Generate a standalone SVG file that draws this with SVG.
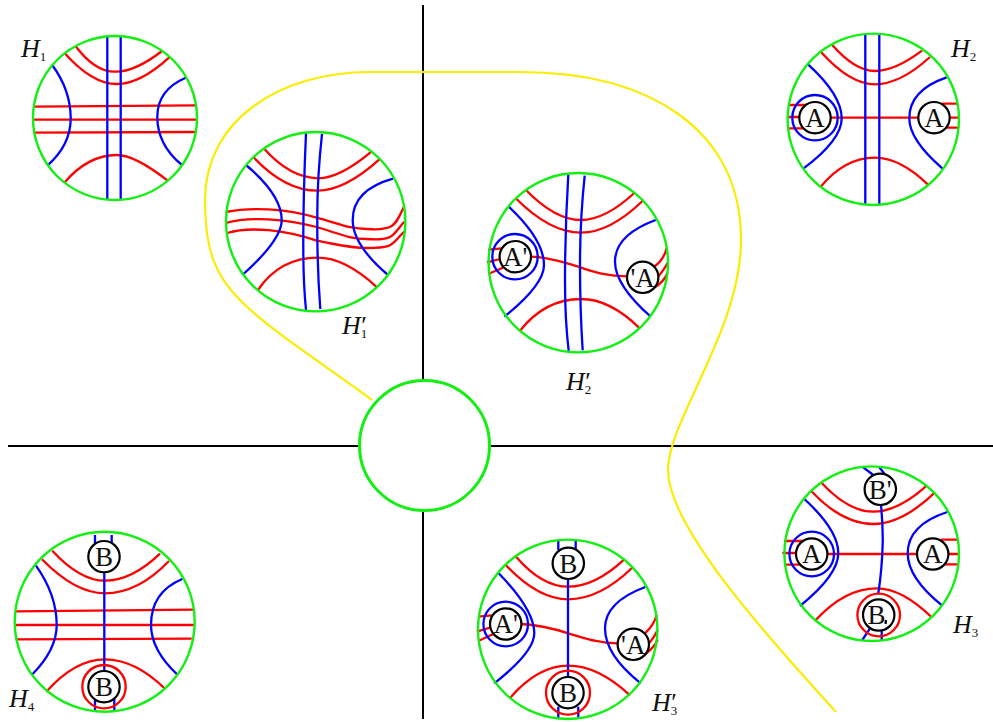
<svg xmlns="http://www.w3.org/2000/svg" width="993" height="722" viewBox="0 0 993 722">
<style>
path,line,circle{fill:none;stroke-width:2.3}
.r{stroke:#f00}.b{stroke:#00f}.d{stroke:#12f012;stroke-width:2.4}
.k{stroke:#000;fill:#fff;stroke-width:2.2}
.ax{stroke:#000;stroke-width:2}
.y{stroke:#fbec00;stroke-width:2.2}
text{font-family:"Liberation Serif","Times New Roman",serif;fill:#111}
.l{font-size:27px;text-anchor:middle}
.h{font-size:26px;font-style:italic}
.s{font-size:13px;font-style:normal}
</style>
<rect width="993" height="722" fill="#fff"/>
<g id="connectors">
<line class="ax" x1="423" y1="5" x2="423" y2="380"/>
<line class="ax" x1="423" y1="512" x2="423" y2="719"/>
<line class="ax" x1="8" y1="446" x2="359" y2="446"/>
<line class="ax" x1="491" y1="446" x2="993" y2="446"/>
<path class="y" d="M372 400C325 365 272 332 240 300C215 275 205 250 205 200C205 120 280 72 370 72L520 72C650 72 741 130 741 240C741 330 668 420 668 470C668 530 780 650 836 712"/>
</g>
<g id="center"><circle cx="424.5" cy="445.5" r="65" class="d" style="stroke-width:3"/></g>

<g id="H1">
<path class="r" d="M75.3 45.7Q95 72 115 71.7Q135 72 162 51M64.3 52.7Q92 84 116.7 84Q140 84 169.3 57.3M64.3 182.7Q88 155 116.7 155Q135 155 167.7 180.7"/>
<path class="r" d="M33 106.7L196 105.3M32.5 119.7L197 119.7M33 132.7L195 132"/>
<path class="b" d="M52 64.7Q70.7 90 70.7 118.3Q70.7 145 47.7 165.3M185.7 77.7Q157.3 90 157.3 116.7Q157.3 145 182 165M107.3 36V200M120.7 36V200"/>
<circle class="d" cx="115" cy="118" r="82"/>
<text class="h" x="21" y="57">H<tspan class="s" dy="4">1</tspan></text>
</g>

<g id="H1p">
<path class="r" d="M263.7 148.3Q290 178 318.3 178.3Q340 178 371.7 151.3M253.3 157Q285 190.7 317.7 190.7Q345 190.7 380.3 158.7M258 290Q280 257.7 317.7 257.7Q345 257.7 377 287.3"/>
<path class="r" d="M225.7 212C250 207 285 208 316.7 217.7C340 224 350 229 366.7 229C395 231 395 225 404 206.7M225.7 223C250 216 285 219 316.7 227C340 234 350 239 366.7 239C395 241 392 235 404.3 221.7M227.3 233C250 226 285 230 316.7 240.7C340 245 350 248 366.7 248C395 248 390 245 404.3 231.7"/>
<path class="b" d="M246 165Q281.7 195 281.7 220Q281.7 240 242.3 275M393 178.7Q352.7 190 352.7 220Q352.7 245 388 275M306 133.3Q303 200 303.3 253Q303.5 285 306 310M322 134Q317 180 317.3 220Q317 265 320.3 309"/>
<circle class="d" cx="315.7" cy="221.7" r="89.7"/>
<text class="h" x="342" y="334">H<tspan class="s" dy="4">1</tspan><tspan dx="-6" dy="-4" font-style="normal">′</tspan></text>
</g>

<g id="H2p">
<path class="r" d="M526 190Q555 220 581 220Q605 220 634.3 193M515.7 198.3Q550 232.7 581 232.7Q610 232.7 643.3 200.3M520 330.7Q545 299 581 299Q610 299 639.7 328.3"/>
<path class="r" d="M531 256.7C545 257 560 261 578.3 266.7C595 272 605 276 627 276.3M488.3 249.7L501.7 248.3M487 262.3L500 259M488.3 274L505 266.7M666.7 247.7Q664 260 654 266.7M667.7 262.7Q664 270 656.7 278.3M667.7 272.7Q664 282 654 287.7"/>
<path class="b" d="M508.7 206.7Q544 240 544 265Q544 285 504.3 316.7M655.7 220Q615 235 615 261.7Q615 285 650.7 316.7M568.3 175Q565 230 565 281.7Q565 320 568.7 351M584.7 175.7Q580 220 580 265Q580 310 582.7 350.3"/>
<circle class="b" cx="515" cy="256.7" r="22.7"/>
<circle class="d" cx="578.3" cy="262.7" r="89.7"/>
<circle class="k" cx="515.3" cy="256.7" r="15.7"/><text class="l" x="515.3" y="266">A'</text>
<circle class="k" cx="642.7" cy="277.3" r="15.7"/><text class="l" x="642.7" y="286.5">'A</text>
<text class="h" x="566" y="390">H<tspan class="s" dy="4">2</tspan><tspan dx="-6" dy="-4" font-style="normal">′</tspan></text>
</g>

<g id="H2">
<path class="r" d="M832.3 45Q855 71 875 71Q895 71 922 50.7M821 52Q850 84.3 875 84.3Q900 84.3 930 57M820.7 186.7Q845 157.7 875 157.7Q900 157.7 928 184.7"/>
<path class="r" d="M830 117.7H918.3M788.3 105H806.7M787 117H800M788.3 128.3H805M941.7 103.7H957.3M948.3 117.7H958.3M945 127.7H958.3"/>
<path class="b" d="M808 64.3Q841.7 95 841.7 118.3Q841.7 140 803.3 168.7M946.7 77.3Q909.3 90 909.3 118.3Q909.3 140 942.3 168.3M865.3 35V205M879.3 35V205"/>
<circle class="b" cx="815" cy="117.7" r="22.7"/>
<circle class="d" cx="873.3" cy="119.3" r="85.7"/>
<circle class="k" cx="815" cy="117.7" r="15.7"/><text class="l" x="815" y="127">A</text>
<circle class="k" cx="934" cy="117.7" r="15.7"/><text class="l" x="934" y="127">A</text>
<text class="h" x="951" y="57">H<tspan class="s" dy="4">2</tspan></text>
</g>

<g id="H3">
<path class="r" d="M821 482.3Q848 511.7 873.3 511.7Q898 511.7 926.7 485.7M811 490.7Q842 524 873.3 524Q902 524 934.7 492.7M815.7 620Q845 588.3 876.7 588.3Q902 588.3 931.7 617.3"/>
<path class="r" d="M826.7 554H916.7M784 541H803.3M782.3 553H795.7M784 564.7H801.7M941 539.7H957.7M948.3 554H959M945 564.3H959"/>
<path class="b" d="M804.3 499Q838.3 530 838.3 553.3Q838.3 575 800 606M947.3 512Q907.7 525 907.7 553.3Q907.7 578 942.3 605.7M881 505Q883 525 882.7 543Q882 570 878.3 593.3M862.3 466.7L873.3 475M879 466.7L886.7 476.7M862.3 640L870 628.3M881.7 640V630.7"/>
<circle class="b" cx="811.7" cy="554" r="22.3"/>
<circle class="r" cx="878.7" cy="615" r="21.3"/>
<circle class="d" cx="871.7" cy="553.7" r="87.3"/>
<circle class="k" cx="811.7" cy="554" r="15.7"/><text class="l" x="811.7" y="563.3">A</text>
<circle class="k" cx="932.7" cy="554" r="15.7"/><text class="l" x="932.7" y="563.3">A</text>
<circle class="k" cx="880.3" cy="489.3" r="15.7"/><text class="l" x="880.3" y="498.5">B'</text>
<circle class="k" cx="878.7" cy="615" r="15.7"/><text class="l" x="876.5" y="624.3">B</text>
<line x1="886" y1="620" x2="885.5" y2="624" stroke="#000"/>
<text class="h" x="953" y="633">H<tspan class="s" dy="4">3</tspan></text>
</g>

<g id="H3p">
<path class="r" d="M516 556.7Q542 586.7 568.3 586.7Q595 586.7 624 559.7M505.7 565Q538 599.3 568.3 599.3Q600 599.3 632.7 567.3M510 698Q538 665.7 568.3 665.7Q598 665.7 630 695.3"/>
<path class="r" d="M521 624C538 625 552 628 568.3 633.3C585 638 597 643 617 643.3M478.3 616.7L491.7 615.3M476.7 631.7L490 627.7M478.3 641L495 633.3M656.7 615Q654 625 645 633.3M657.7 630Q654 638 647.7 645M657.7 640Q654 648 644 655"/>
<path class="b" d="M498.7 573.3Q534.3 610 534.3 633.3Q534.3 652 494.3 683.3M645.3 587Q605 602 605 628.3Q605 655 640.7 683.3M568 579.3V676.7M558.3 540.7V550M575.7 540.7V550M558.3 706.7V718.3M578.3 706.7V718.3"/>
<circle class="b" cx="505.7" cy="624" r="22.3"/>
<circle class="r" cx="568" cy="692.7" r="22"/>
<circle class="d" cx="567.7" cy="629.3" r="89.7"/>
<circle class="k" cx="505.7" cy="624" r="15.7"/><text class="l" x="505.7" y="633.3">A'</text>
<circle class="k" cx="633.3" cy="644.3" r="15.7"/><text class="l" x="633.3" y="653.5">'A</text>
<circle class="k" cx="568.3" cy="563.3" r="15.7"/><text class="l" x="568.3" y="572.5">B</text>
<circle class="k" cx="568" cy="692.7" r="15.7"/><text class="l" x="568" y="702">B</text>
<text class="h" x="652" y="711">H<tspan class="s" dy="4">3</tspan><tspan dx="-6" dy="-4" font-style="normal">′</tspan></text>
</g>

<g id="H4">
<path class="r" d="M52.3 550.7Q80 580.7 105 580.7Q132 580.7 160 553.7M42 559.3Q75 593.3 105 593.3Q138 593.3 169 561M46.3 691.7Q75 659.3 105 659.3Q135 659.3 165.3 689"/>
<path class="r" d="M15.7 611.3L193.3 609.7M14.7 625H194.3M15.7 639.3L191.7 638.7"/>
<path class="b" d="M36 565.7Q56.7 595 56.7 625Q56.7 650 31.7 675M182.3 579Q151 592 151 625Q151 650 177.7 675M104.3 573.3V671.7M95 535V545M111.7 535V545M95 699V711.7M114.3 699V711.7"/>
<circle class="r" cx="104" cy="686.7" r="21.7"/>
<circle class="d" cx="104.7" cy="621.7" r="90"/>
<circle class="k" cx="104" cy="556.7" r="15.7"/><text class="l" x="104" y="566">B</text>
<circle class="k" cx="104" cy="686.7" r="15.7"/><text class="l" x="104" y="696">B</text>
<text class="h" x="9" y="707">H<tspan class="s" dy="4">4</tspan></text>
</g>
</svg>
